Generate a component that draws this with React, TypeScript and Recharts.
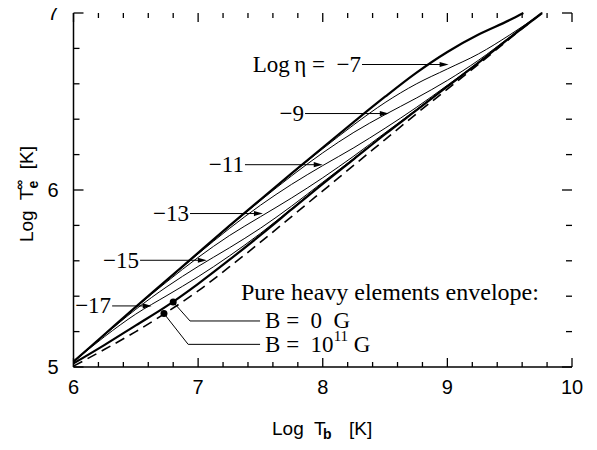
import React from 'react';
import { LineChart, Line, XAxis, YAxis, ReferenceLine, ReferenceDot } from 'recharts';

// log T_b grid (K)
const tbGrid = [6.0, 6.25, 6.5, 6.75, 7.0, 7.25, 7.5, 7.75, 8.0, 8.25, 8.5, 8.75, 9.0, 9.25, 9.5, 9.76];
const tbAccreted = [6.0, 6.25, 6.5, 6.75, 7.0, 7.25, 7.5, 7.75, 8.0, 8.25, 8.5, 8.75, 9.0, 9.25, 9.5, 9.61];

// log T_e^inf (K)
const teAccreted = [5.03, 5.185, 5.34, 5.492, 5.645, 5.797, 5.946, 6.094, 6.24, 6.385, 6.527, 6.662, 6.78, 6.878, 6.96, 7.0];
const teHeavyB0 = [5.02, 5.125, 5.235, 5.345, 5.47, 5.605, 5.745, 5.89, 6.035, 6.175, 6.315, 6.45, 6.585, 6.72, 6.86, 7.0];
const teHeavyB11 = [5.005, 5.1, 5.2, 5.31, 5.43, 5.565, 5.705, 5.85, 5.995, 6.14, 6.285, 6.43, 6.57, 6.71, 6.855, 7.0];
const teEta17 = [5.029, 5.172, 5.299, 5.404, 5.51, 5.627, 5.755, 5.895, 6.037, 6.176, 6.315, 6.45, 6.585, 6.72, 6.86, 7.0];
const teEta15 = [5.03, 5.181, 5.326, 5.454, 5.568, 5.673, 5.784, 5.909, 6.044, 6.179, 6.317, 6.451, 6.585, 6.72, 6.86, 7.0];
const teEta13 = [5.03, 5.184, 5.337, 5.482, 5.619, 5.742, 5.849, 5.955, 6.069, 6.192, 6.323, 6.453, 6.586, 6.72, 6.86, 7.0];
const teEta11 = [5.03, 5.185, 5.339, 5.49, 5.639, 5.782, 5.914, 6.032, 6.138, 6.239, 6.349, 6.466, 6.592, 6.722, 6.86, 7.0];
const teEta9 = [5.03, 5.185, 5.34, 5.492, 5.644, 5.794, 5.94, 6.08, 6.21, 6.326, 6.426, 6.519, 6.619, 6.733, 6.864, 7.0];
const teEta7 = [5.03, 5.185, 5.34, 5.492, 5.645, 5.797, 5.945, 6.091, 6.233, 6.369, 6.494, 6.599, 6.684, 6.769, 6.876, 7.0];

const xTicks = [6, 6.2, 6.4, 6.6, 6.8, 7, 7.2, 7.4, 7.6, 7.8, 8, 8.2, 8.4, 8.6, 8.8, 9, 9.2, 9.4, 9.6, 9.8, 10];
const yTicks = [5, 5.2, 5.4, 5.6, 5.8, 6, 6.2, 6.4, 6.6, 6.8, 7];
const xMajor = [6, 7, 8, 9, 10];
const yMajor = [5, 6, 7];

// arrow labels: text, where the arrow starts, tip, and level
const etaLabels = ['Log\u2009η =  −7', '−9', '−11', '−13', '−15', '−17'];
const etaArrowFrom = [8.315, 7.858, 7.376, 6.935, 6.534, 6.31];
const etaArrowTip = [9.01, 8.53, 8.0, 7.52, 7.07, 6.628];
const etaArrowTe = [6.709, 6.432, 6.143, 5.867, 5.603, 5.345];

const toPoints = (xs: number[], ys: number[]) => xs.map((tb, i) => ({ tb, te: ys[i] }));

const thinCurves = [teEta7, teEta9, teEta11, teEta13, teEta15, teEta17];

const SERIF = '"Liberation Serif", "Times New Roman", serif';
const SANS = '"Liberation Sans", Arial, sans-serif';

const isMajor = (v: number) => Math.abs(v - Math.round(v)) < 1e-6;

// horizontal inward tick drawn from the segment start
const yTickShape = (len: number) => (p: any) => (
  <path d={`M${p.x1},${p.y1} l${len},0`} stroke="#000" strokeWidth={1.3} fill="none" />
);

// vertical inward tick drawn from a reference dot's centre
const xTickShape = (len: number) => (p: any) => (
  <path d={`M${p.cx},${p.cy} l0,${len}`} stroke="#000" strokeWidth={1.3} fill="none" />
);

const BottomTick = (p: any) => (
  <text x={p.x} y={p.y + 20} textAnchor="middle" dominantBaseline="central" fontFamily={SANS} fontSize={20} fill="#000">
    {p.payload.value}
  </text>
);

const LeftTick = (p: any) => (
  <text x={p.x - 15} y={p.y} textAnchor="end" dominantBaseline="central" fontFamily={SANS} fontSize={20} fill="#000">
    {p.payload.value}
  </text>
);

const arrowShape = (label: string) => (p: any) => {
  const { x1, y1, x2, y2 } = p;
  return (
    <g>
      <line x1={x1} y1={y1} x2={x2 - 7} y2={y2} stroke="#000" strokeWidth={1} />
      <polygon points={`${x2},${y2} ${x2 - 9},${y2 - 2.6} ${x2 - 9},${y2 + 2.6}`} fill="#000" />
      <text x={x1 - 1} y={y1} textAnchor="end" dominantBaseline="central" fontFamily={SERIF} fontSize={23} fill="#000" style={{ whiteSpace: 'pre' }}>
        {label}
      </text>
    </g>
  );
};

const leaderShape = (which: number) => (p: any) => {
  const { x1, y1, x2, y2 } = p;
  return (
    <g>
      <line x1={x1} y1={y1} x2={x2} y2={y2} stroke="#000" strokeWidth={1} />
      <text x={x2 + 5} y={y2} dominantBaseline="central" fontFamily={SERIF} fontSize={23} fill="#000" style={{ whiteSpace: 'pre' }}>
        {which === 0 ? (
          'B =  0  G'
        ) : (
          <>
            B =  10<tspan fontSize={15} dy={-8}>11</tspan>
            <tspan dy={8}> G</tspan>
          </>
        )}
      </text>
    </g>
  );
};

const axisLine = { stroke: '#000', strokeWidth: 1.5 };

export default function App() {
  return (
    <div style={{ position: 'relative', width: 589, height: 442, marginTop: -8 }}>
      <LineChart width={589} height={442} margin={{ top: 13, right: 25, left: 0, bottom: 0 }}>
        <XAxis
          dataKey="tb"
          type="number"
          domain={[6, 10]}
          ticks={xMajor}
          interval={0}
          height={75}
          tickSize={0}
          tickMargin={0}
          tickLine={false}
          tick={<BottomTick />}
          axisLine={axisLine}
        />
        <XAxis xAxisId="top" orientation="top" type="number" domain={[6, 10]} height={0} tick={false} tickLine={false} axisLine={axisLine} />
        <YAxis
          type="number"
          domain={[5, 7]}
          ticks={yMajor}
          interval={0}
          width={65.5}
          tickSize={0}
          tickMargin={0}
          tickLine={false}
          tick={<LeftTick />}
          axisLine={axisLine}
        />
        <YAxis yAxisId="right" orientation="right" type="number" domain={[5, 7]} width={0} tick={false} tickLine={false} axisLine={axisLine} />

        {/* inward tick marks on the left and right sides */}
        {yTicks.map((v) => (
          <ReferenceLine key={`l${v}`} segment={[{ x: 6, y: v }, { x: 6.05, y: v + 0.01 }]} shape={yTickShape(isMajor(v) ? 10 : 6)} ifOverflow="visible" />
        ))}
        {yTicks.map((v) => (
          <ReferenceLine key={`r${v}`} segment={[{ x: 10, y: v }, { x: 9.95, y: v + 0.01 }]} shape={yTickShape(isMajor(v) ? -10 : -6)} ifOverflow="visible" />
        ))}

        {thinCurves.map((ys, i) => (
          <Line
            key={i}
            data={toPoints(tbGrid, ys)}
            dataKey="te"
            type="monotone"
            stroke="#000"
            strokeWidth={1}
            dot={false}
            isAnimationActive={false}
          />
        ))}
        <Line data={toPoints(tbAccreted, teAccreted)} dataKey="te" type="monotone" stroke="#000" strokeWidth={2.2} dot={false} isAnimationActive={false} />
        <Line data={toPoints(tbGrid, teHeavyB0)} dataKey="te" type="monotone" stroke="#000" strokeWidth={2.2} dot={false} isAnimationActive={false} />
        <Line data={toPoints(tbGrid, teHeavyB11)} dataKey="te" type="monotone" stroke="#000" strokeWidth={1.6} strokeDasharray="10 6" dot={false} isAnimationActive={false} />

        {etaLabels.map((lab, i) => (
          <ReferenceLine
            key={lab}
            segment={[
              { x: etaArrowFrom[i], y: etaArrowTe[i] },
              { x: etaArrowTip[i], y: etaArrowTe[i] },
            ]}
            shape={arrowShape(lab)}
          />
        ))}

        <ReferenceLine segment={[{ x: 6.8, y: 5.367 }, { x: 6.935, y: 5.26 }]} stroke="#000" strokeWidth={1} />
        <ReferenceLine segment={[{ x: 6.935, y: 5.26 }, { x: 7.497, y: 5.26 }]} shape={leaderShape(0)} />
        <ReferenceLine segment={[{ x: 6.726, y: 5.302 }, { x: 6.92, y: 5.128 }]} stroke="#000" strokeWidth={1} />
        <ReferenceLine segment={[{ x: 6.92, y: 5.128 }, { x: 7.497, y: 5.128 }]} shape={leaderShape(1)} />
        <ReferenceDot x={6.8} y={5.367} r={3.5} fill="#000" stroke="none" />
        <ReferenceDot x={6.726} y={5.302} r={3.5} fill="#000" stroke="none" />

        {/* inward tick marks on the bottom and top sides */}
        {xTicks.map((v) => (
          <ReferenceDot key={`bt${v}`} x={v} y={5} r={1} ifOverflow="visible" shape={xTickShape(isMajor(v) ? -9 : -5)} />
        ))}
        {xTicks.map((v) => (
          <ReferenceDot key={`tt${v}`} x={v} y={7} r={1} ifOverflow="visible" shape={xTickShape(isMajor(v) ? 9 : 5)} />
        ))}
      </LineChart>

      <svg width={589} height={442} style={{ position: 'absolute', left: 0, top: 0, pointerEvents: 'none' }}>
        <text x={233} y={300} fontFamily={SERIF} fontSize={24} fill="#000">
          Pure heavy elements envelope:
        </text>
        <text y={435} fontFamily={SANS} fontSize={19} fill="#000">
          <tspan x={264}>Log</tspan>
          <tspan x={306}>T</tspan>
          <tspan x={315} dy={4} fontSize={14} fontWeight="bold">b</tspan>
          <tspan x={341} dy={-4}>[K]</tspan>
        </text>
        <text transform="rotate(-90, 25, 194)" x={25} y={194} textAnchor="middle" fontFamily={SANS} fontSize={19} fill="#000" style={{ whiteSpace: 'pre' }}>
          Log  T<tspan fontSize={14} fontWeight="bold" dy={5}>e</tspan>
          <tspan fontSize={14} fontWeight="bold" dx={-9} dy={-14}>∞</tspan>
          <tspan dy={9}>  [K]</tspan>
        </text>
      </svg>
    </div>
  );
}
